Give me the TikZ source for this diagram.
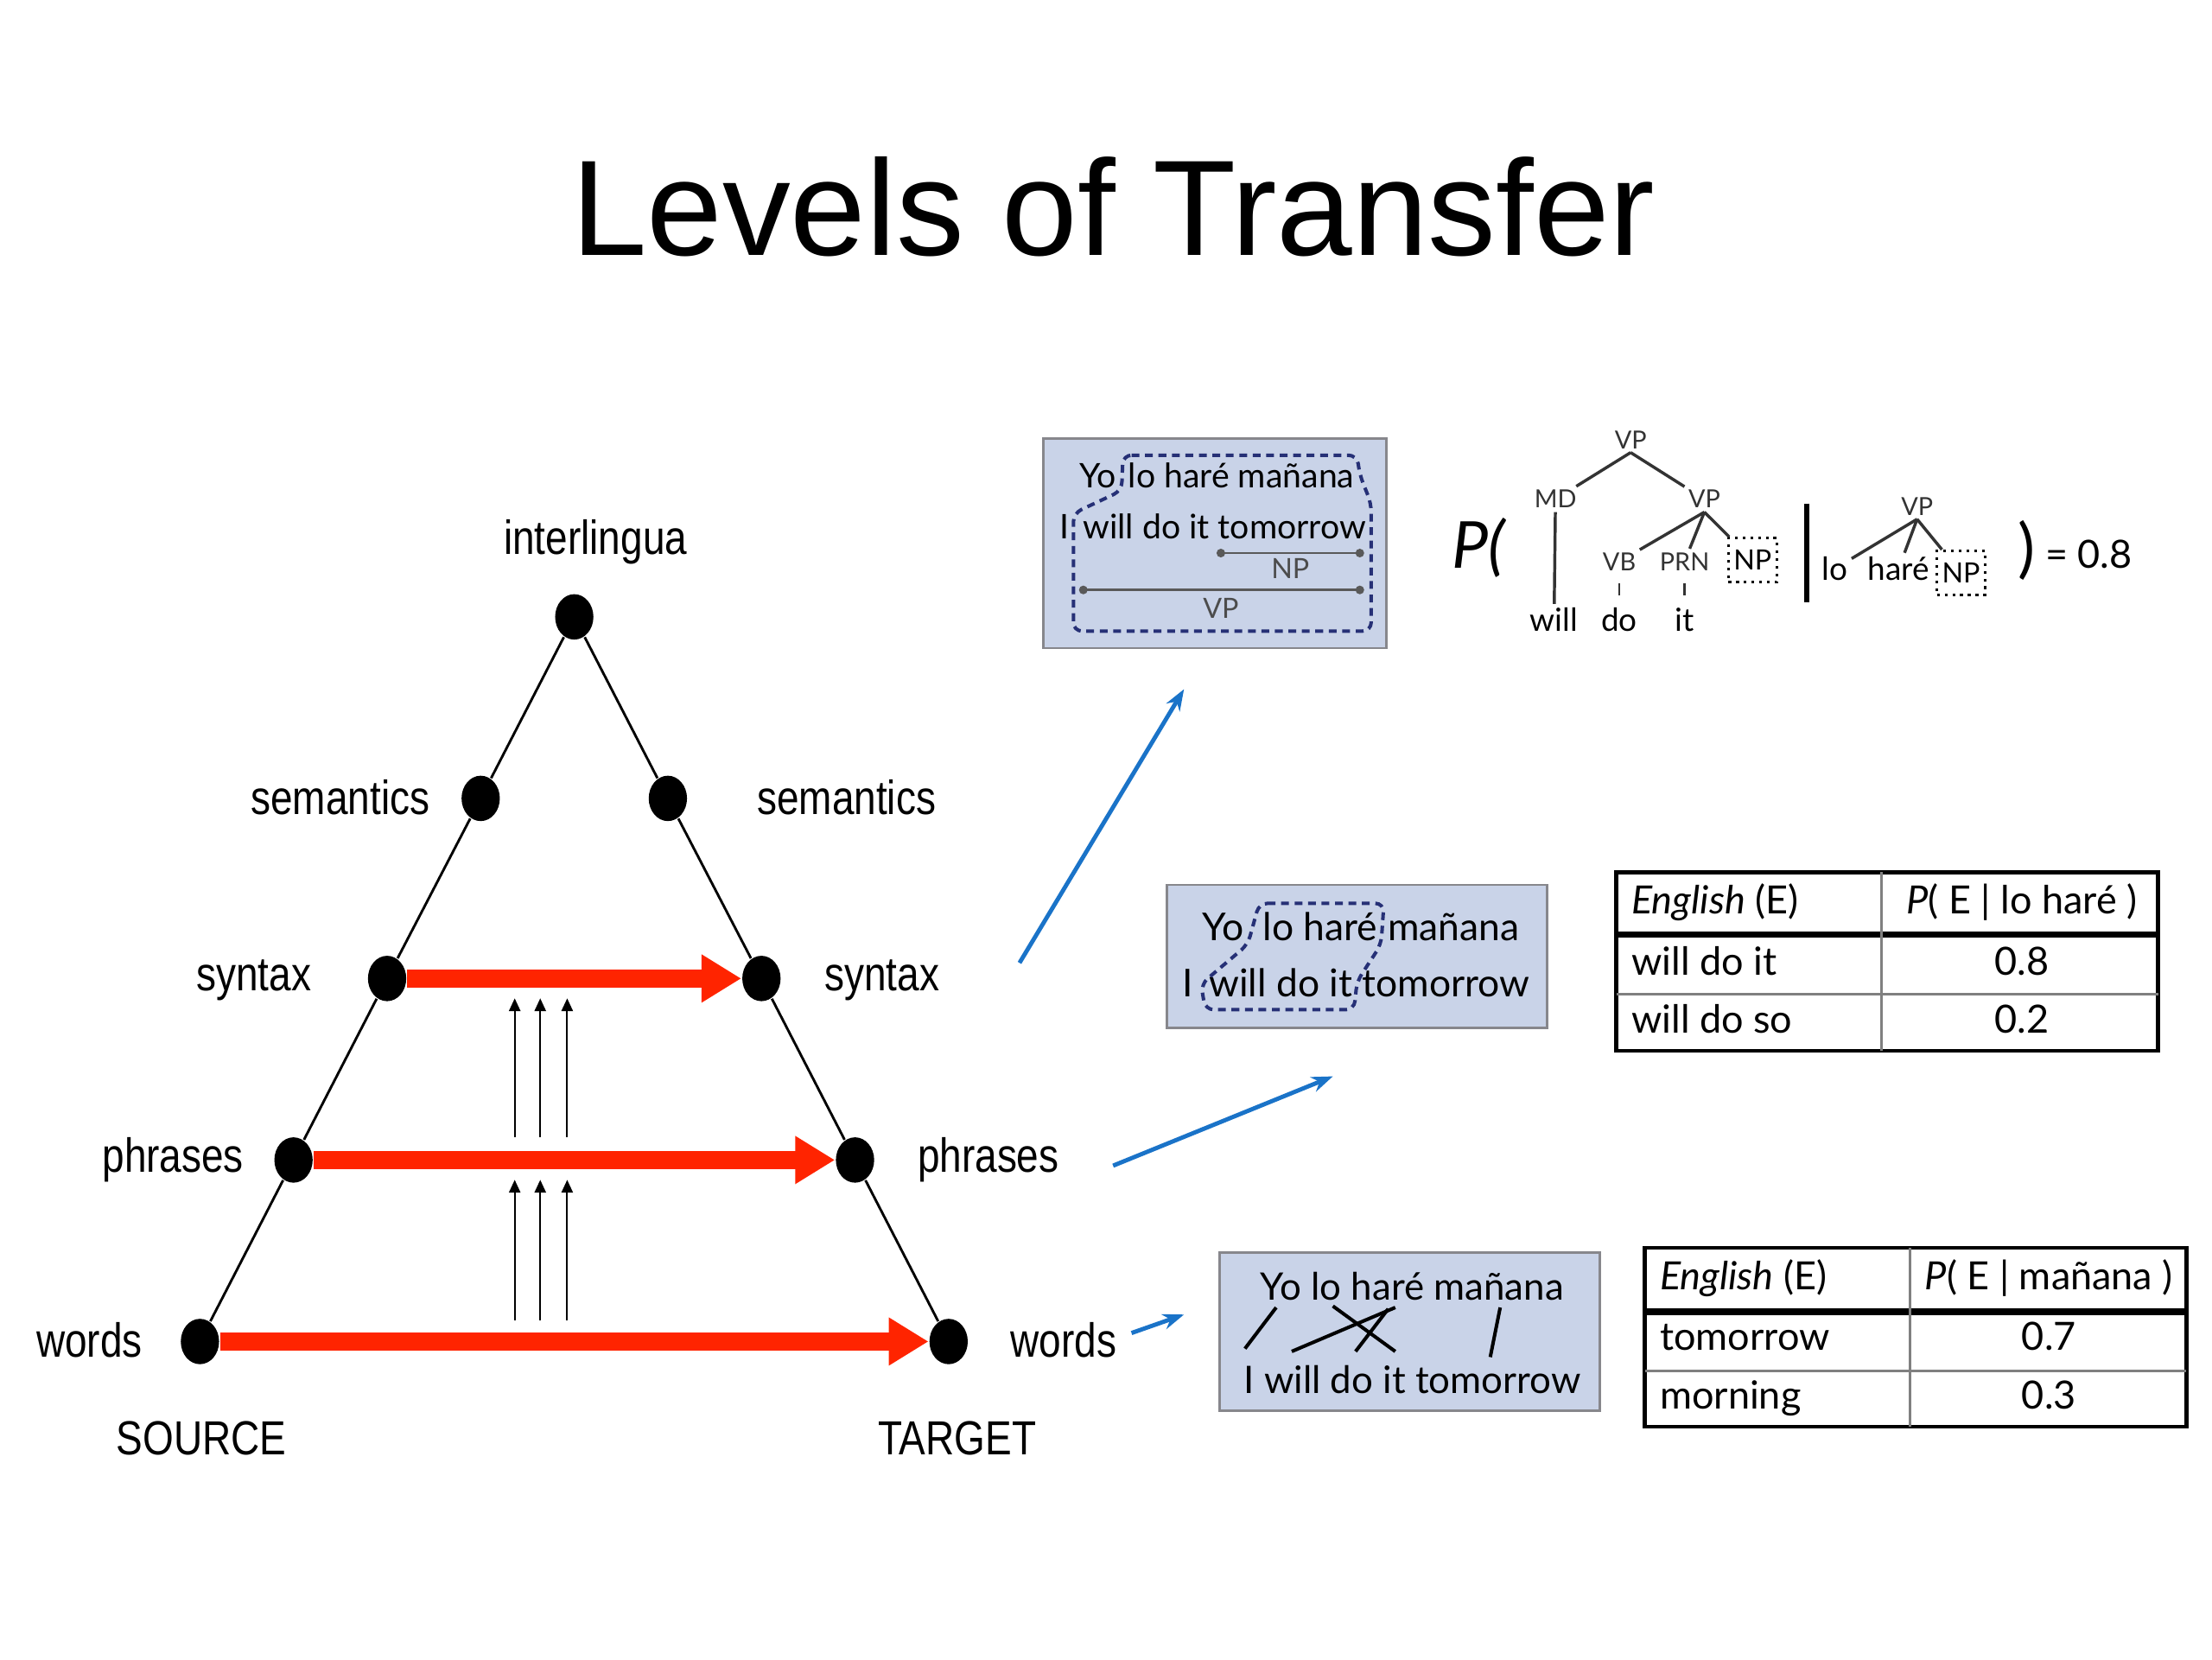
\documentclass[tikz,border=0pt]{standalone}
\usepackage{fontspec}
\setmainfont{Lato}
\newfontfamily\slidefont{Liberation Sans}
\newfontfamily\levelfont[FakeStretch=0.83]{Liberation Sans}
\usepackage{tikz}
\usetikzlibrary{arrows.meta,shapes,positioning,calc}

\definecolor{boxblue}{RGB}{201,211,232}
\definecolor{boxedge}{RGB}{135,135,140}
\definecolor{dashblue}{RGB}{38,48,118}
\definecolor{transred}{RGB}{255,36,0}
\definecolor{arrblue}{RGB}{26,115,200}

\begin{document}
\begin{tikzpicture}[x=0.1mm,y=-0.1mm,
  lvl/.style={ellipse,fill=black,inner sep=0pt,minimum width=2.7mm,minimum height=3.2mm},
  lvlname/.style={inner sep=0pt,font=\levelfont\fontsize{9.6}{11}\selectfont},
  transfer/.style={draw=transred,line width=1.25mm,-{Triangle[length=2.8mm,width=3.2mm]}},
  climb/.style={line width=0.35pt,-{Triangle[length=0.9mm,width=0.8mm]}},
  pointer/.style={draw=arrblue,line width=0.85pt,-{Stealth[length=1.5mm,width=1.1mm]}},
  exbox/.style={draw=boxedge,fill=boxblue,line width=0.5pt,inner sep=0pt},
  sent/.style={inner sep=0pt,text height=6pt,text depth=0pt,font=\fontsize{7.6}{9}\selectfont},
  small/.style={inner sep=0pt,font=\fontsize{6.8}{8}\selectfont},
  mid/.style={inner sep=0pt,font=\fontsize{7.7}{9}\selectfont},
  chunk/.style={draw=dashblue,line width=0.7pt,dash pattern=on 0.55mm off 0.4mm,rounded corners=0.6mm},
  spanline/.style={draw=gray!70!black,line width=0.45pt,{Circle[length=0.6mm]}-{Circle[length=0.6mm]}},
  cat/.style={inner sep=0.6pt,text=black!80,font=\fontsize{5}{6}\selectfont},
  word/.style={inner sep=0.6pt,font=\fontsize{6.4}{7}\selectfont},
  hole/.style={draw,densely dotted,line width=0.55pt,inner sep=0pt,minimum width=3.4mm,minimum height=3.1mm,font=\fontsize{5.6}{6}\selectfont},
  branch/.style={draw=black!80,line width=0.6pt},
  cell/.style={inner sep=0pt,text height=6pt,text depth=1.8pt,font=\fontsize{7.8}{9}\selectfont},
]

\useasboundingbox (0,0) rectangle (1560,1170);

\node[font=\slidefont\fontsize{27.3}{32}\selectfont] (title) at (785,146) {Levels of Transfer};

% the triangle
\node[lvl] (apex) at (405,435) {};
\node[lvl] (smL) at (339,563) {};
\node[lvl] (smR) at (471,563) {};
\node[lvl] (syL) at (273,690) {};
\node[lvl] (syR) at (537,690) {};
\node[lvl] (phL) at (207,818) {};
\node[lvl] (phR) at (603,818) {};
\node[lvl] (wdL) at (141,946) {};
\node[lvl] (wdR) at (669,946) {};

\draw[line width=0.5pt] (apex) -- (smL) -- (syL) -- (phL) -- (wdL);
\draw[line width=0.5pt] (apex) -- (smR) -- (syR) -- (phR) -- (wdR);

\node[lvlname] (il) at (420,382) {interlingua};
\node[lvlname] (smLt) at (240,562) {semantics};
\node[lvlname] (smRt) at (597,562) {semantics};
\node[lvlname] (syLt) at (179,691) {syntax};
\node[lvlname] (syRt) at (622,691) {syntax};
\node[lvlname] (phLt) at (122,818) {phrases};
\node[lvlname] (phRt) at (697,818) {phrases};
\node[lvlname] (wdLt) at (63,945) {words};
\node[lvlname] (wdRt) at (750,945) {words};
\node[lvlname] (src) at (142,1014) {SOURCE};
\node[lvlname] (tgt) at (675,1014) {TARGET};

\draw[transfer] (syL) -- (syR);
\draw[transfer] (phL) -- (phR);
\draw[transfer] (wdL) -- (wdR);

\foreach \x [count=\i] in {363,381,400} {
  \coordinate (hiA\i) at (\x,802); \coordinate (hiB\i) at (\x,704);
  \coordinate (loA\i) at (\x,931); \coordinate (loB\i) at (\x,832);
  \draw[climb] (hiA\i) -- (hiB\i);
  \draw[climb] (loA\i) -- (loB\i);
}

% pointers to the examples
\coordinate (synS) at (719,679); \coordinate (synE) at (835,486);
\coordinate (phrS) at (785,822); \coordinate (phrE) at (940,759);
\coordinate (wrdS) at (798,940); \coordinate (wrdE) at (835,927);
\draw[pointer] (synS) -- (synE);
\draw[pointer] (phrS) -- (phrE);
\draw[pointer] (wrdS) -- (wrdE);

% syntax example
\node[exbox, minimum width=24.2mm, minimum height=14.8mm] (exSyn) at (857,383) {};
\node[small, anchor=base east] (synYo) at (788,344) {Yo};
\node[small, anchor=base west] (synLo) at (795,344) {lo haré mañana};
\node[small, anchor=base east] (synI) at (755,380) {I};
\node[small, anchor=base west] (synWill) at (763,380) {will do it tomorrow};
\draw[spanline] (858,390) -- (962,390);
\node[cat, text=black!70, font=\fontsize{5.6}{7}\selectfont] (spNP) at (910,401) {NP};
\draw[spanline] (761,416) -- (962,416);
\node[cat, text=black!70, font=\fontsize{5.6}{7}\selectfont] (spVP) at (861,429) {VP};
\draw[chunk] (792,321) -- (957,321) -- (959,335) -- (967,355) -- (967,445) -- (757,445) -- (757,362) -- (791,346) -- cycle;

\node[font=\itshape\fontsize{13}{15}\selectfont] (pOpen) at (1043,386) {P(};
\node[cat] (vpA) at (1150,310) {VP};
\node[cat] (mdA) at (1097,352) {MD};
\node[cat] (vpB) at (1202,352) {VP};
\node[word] (willA) at (1096,437) {will};
\node[cat] (vbA) at (1142,396) {VB};
\node[cat] (prnA) at (1188,396) {PRN};
\node[hole] (npA) at (1236,395) {NP};
\node[word] (doA) at (1142,437) {do};
\node[word] (itA) at (1188,437) {it};
\draw[branch] (vpA.south) -- (mdA);
\draw[branch] (vpA.south) -- (vpB);
\draw[branch] (mdA) -- (willA);
\draw[branch] (vpB.south) -- (vbA);
\draw[branch] (vpB.south) -- (prnA);
\draw[branch] (vpB.south) -- (npA);
\draw[branch, line width=0.4pt, shorten <=0.6mm, shorten >=0.6mm] (vbA) -- (doA);
\draw[branch, line width=0.4pt, shorten <=0.6mm, shorten >=0.6mm] (prnA) -- (itA);

\draw[line width=1pt] (1274,355) -- (1274,425);

\node[cat] (vpC) at (1352,357) {VP};
\node[word] (loC) at (1294,401) {lo};
\node[word] (hareC) at (1339,401) {haré};
\node[hole] (npC) at (1383,404) {NP};
\draw[branch] (vpC.south) -- (loC);
\draw[branch] (vpC.south) -- (hareC);
\draw[branch] (vpC.south) -- (npC);
\node[font=\fontsize{13}{15}\selectfont] (pClose) at (1429,388) {)};
\node[font=\fontsize{7.8}{9}\selectfont] (pVal) at (1473,391) {= 0.8};

% phrase example
\node[exbox, minimum width=26.8mm, minimum height=10.1mm] (exPhr) at (957,674.5) {};
\node[mid, anchor=base east] (phrYo) at (878,663) {Yo};
\node[mid, anchor=base west] (phrLo) at (890,663) {lo haré};
\node[mid, anchor=base west] (phrMa) at (978,663) {mañana};
\node[mid, anchor=base east] (phrI) at (842,703) {I};
\node[mid, anchor=base west] (phrWill) at (852,703) {will do it};
\node[mid, anchor=base west] (phrTo) at (960,703) {tomorrow};
\draw[chunk] (888,637) -- (976,637) -- (974,666) -- (957,692) -- (955,712) -- (850,712) -- (847,694) -- (880,666) -- cycle;

\draw[line width=0.8pt] (1140,615) rectangle (1522,741);
\draw[line width=1.3pt] (1140,659) -- (1522,659);
\draw[gray, line width=0.5pt] (1140,701) -- (1522,701);
\draw[gray, line width=0.5pt] (1327,615) -- (1327,741);
\node[cell, anchor=west] (hA1) at (1150,637) {\textit{English} (E)};
\node[cell] (hA2) at (1426,637) {\textit{P}( E | lo haré )};
\node[cell, anchor=west] (rA1) at (1150,680) {will do it};
\node[cell] (rA2) at (1426,680) {0.8};
\node[cell, anchor=west] (sA1) at (1150,721) {will do so};
\node[cell] (sA2) at (1426,721) {0.2};

% word example
\node[exbox, minimum width=26.8mm, minimum height=11.2mm] (exWrd) at (994,939) {};
\node[sent] (wrdYo) at (996,906) {Yo lo haré mañana};
\node[sent] (wrdI) at (996,972) {I will do it tomorrow};
\draw[line width=0.7pt] (900,922) -- (878,951);
\draw[line width=0.7pt] (984,922) -- (911,953);
\draw[line width=0.7pt] (940,921) -- (984,953);
\draw[line width=0.7pt] (979,923) -- (956,953);
\draw[line width=0.7pt] (1058,922) -- (1051,957);

\draw[line width=0.8pt] (1160,880) rectangle (1542,1006);
\draw[line width=1.3pt] (1160,925) -- (1542,925);
\draw[gray, line width=0.5pt] (1160,967) -- (1542,967);
\draw[gray, line width=0.5pt] (1347,880) -- (1347,1006);
\node[cell, anchor=west] (hB1) at (1170,902) {\textit{English} (E)};
\node[cell] (hB2) at (1445,902) {\textit{P}( E | mañana )};
\node[cell, anchor=west] (rB1) at (1170,945) {tomorrow};
\node[cell] (rB2) at (1445,945) {0.7};
\node[cell, anchor=west] (sB1) at (1170,986) {morning};
\node[cell] (sB2) at (1445,986) {0.3};

\end{tikzpicture}
\end{document}
